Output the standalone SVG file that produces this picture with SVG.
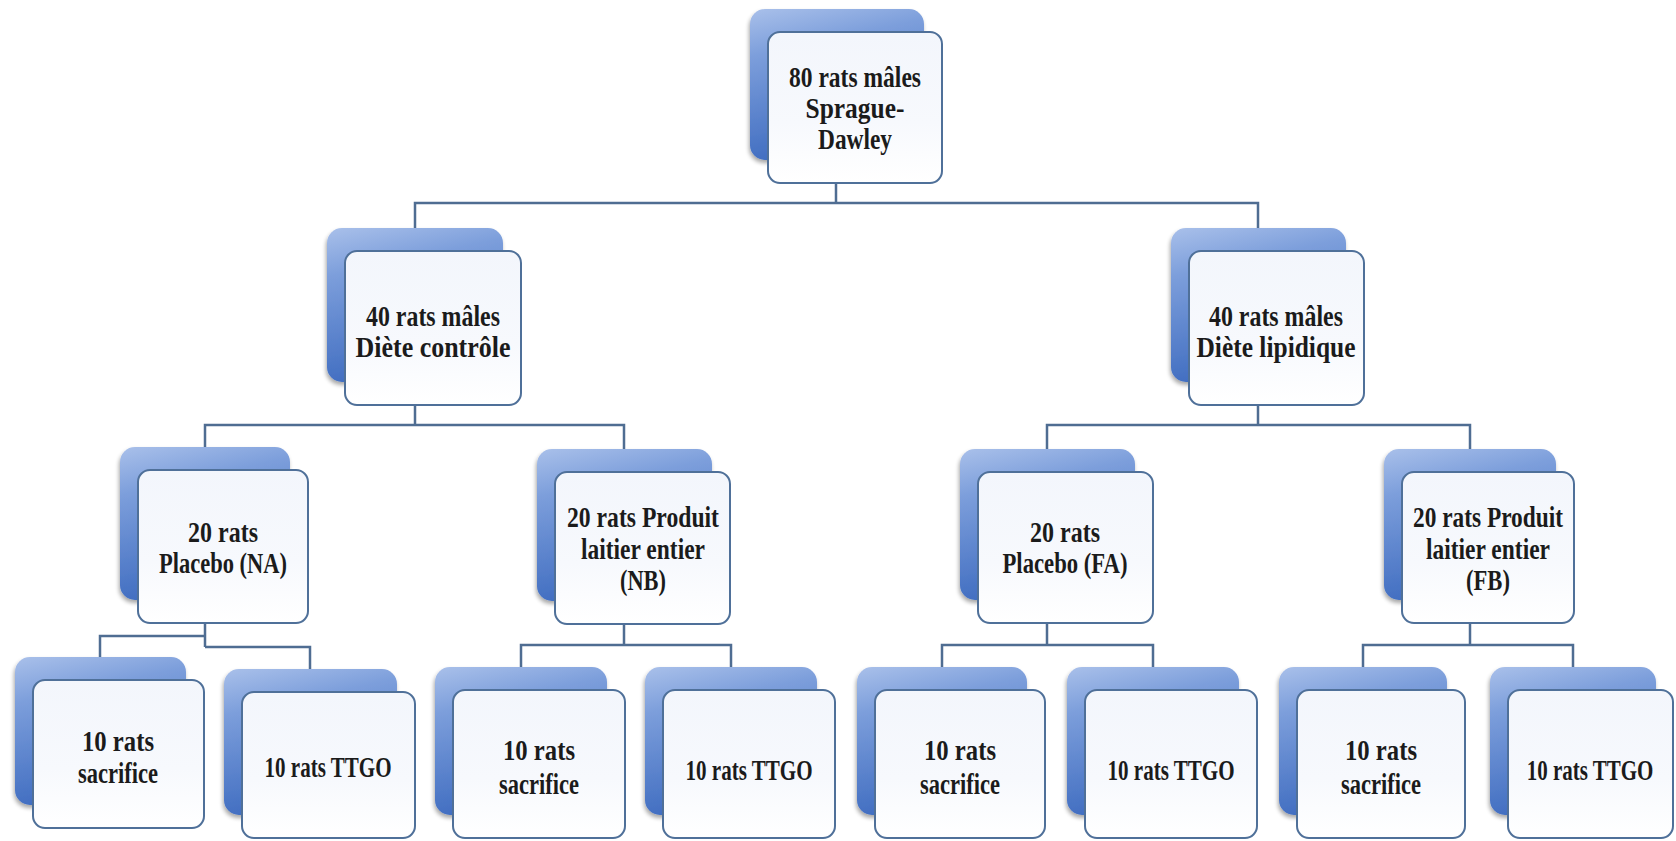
<svg xmlns="http://www.w3.org/2000/svg" width="1676" height="841" viewBox="0 0 1676 841">
<defs>
<linearGradient id="backG" x1="0" y1="0" x2="0.25" y2="1">
<stop offset="0" stop-color="#a9c0ea"/>
<stop offset="0.3" stop-color="#7c9edb"/>
<stop offset="1" stop-color="#3f6cc0"/>
</linearGradient>
<linearGradient id="frontG" x1="0" y1="0" x2="0" y2="1">
<stop offset="0" stop-color="#f3f6fc"/>
<stop offset="0.6" stop-color="#f7f9fd"/>
<stop offset="1" stop-color="#ffffff"/>
</linearGradient>
<filter id="sh" x="-10%" y="-10%" width="125%" height="125%">
<feGaussianBlur in="SourceAlpha" stdDeviation="2"/>
<feOffset dx="-1" dy="3"/>
<feComponentTransfer><feFuncA type="linear" slope="0.35"/></feComponentTransfer>
<feMerge><feMergeNode/><feMergeNode in="SourceGraphic"/></feMerge>
</filter>
</defs>
<style>
.back{fill:url(#backG);filter:url(#sh)}
.front{fill:url(#frontG);stroke:#4f7099;stroke-width:2}
.t{font-family:"Liberation Serif","Times New Roman",serif;font-weight:bold;font-size:30px;fill:#1b1b1b;text-anchor:middle}
.c{fill:none;stroke:#4f6d92;stroke-width:2.5}
</style>
<rect width="1676" height="841" fill="#ffffff"/>
<g id="connectors">
<path class="c" d="M836,183 V203 M415,228 V203 H1258 V228"/>
<path class="c" d="M415,405 V425 M205,447 V425 H624 V449"/>
<path class="c" d="M1258,405 V425 M1047,449 V425 H1470 V449"/>
<path class="c" d="M205,623 V647 M100,657 V636 H205 M205,647 H310 V669"/>
<path class="c" d="M624,624 V645 M521,667 V645 H731 V667"/>
<path class="c" d="M1047,623 V645 M942,667 V645 H1153 V667"/>
<path class="c" d="M1470,623 V645 M1363,667 V645 H1573 V667"/>
</g>
<g id="n80">
<rect class="back" x="750" y="9" width="174" height="151" rx="15"/>
<rect class="front" x="768" y="32" width="174" height="151" rx="12"/>
<text class="t" x="855" y="87" textLength="132" lengthAdjust="spacingAndGlyphs">80 rats mâles</text>
<text class="t" x="855" y="118" textLength="99" lengthAdjust="spacingAndGlyphs">Sprague-</text>
<text class="t" x="855" y="149" textLength="74" lengthAdjust="spacingAndGlyphs">Dawley</text>
</g>
<g id="n40c">
<rect class="back" x="327" y="228" width="176" height="154" rx="15"/>
<rect class="front" x="345" y="251" width="176" height="154" rx="12"/>
<text class="t" x="433" y="326" textLength="134" lengthAdjust="spacingAndGlyphs">40 rats mâles</text>
<text class="t" x="433" y="357" textLength="155" lengthAdjust="spacingAndGlyphs">Diète contrôle</text>
</g>
<g id="n40l">
<rect class="back" x="1171" y="228" width="175" height="154" rx="15"/>
<rect class="front" x="1189" y="251" width="175" height="154" rx="12"/>
<text class="t" x="1276" y="326" textLength="134" lengthAdjust="spacingAndGlyphs">40 rats mâles</text>
<text class="t" x="1276" y="357" textLength="159" lengthAdjust="spacingAndGlyphs">Diète lipidique</text>
</g>
<g id="nNA">
<rect class="back" x="120" y="447" width="170" height="153" rx="15"/>
<rect class="front" x="138" y="470" width="170" height="153" rx="12"/>
<text class="t" x="223" y="542" textLength="70" lengthAdjust="spacingAndGlyphs">20 rats</text>
<text class="t" x="223" y="573" textLength="128" lengthAdjust="spacingAndGlyphs">Placebo (NA)</text>
</g>
<g id="nNB">
<rect class="back" x="537" y="449" width="175" height="152" rx="15"/>
<rect class="front" x="555" y="472" width="175" height="152" rx="12"/>
<text class="t" x="643" y="527" textLength="152" lengthAdjust="spacingAndGlyphs">20 rats Produit</text>
<text class="t" x="643" y="559" textLength="124" lengthAdjust="spacingAndGlyphs">laitier entier</text>
<text class="t" x="643" y="590" textLength="46" lengthAdjust="spacingAndGlyphs">(NB)</text>
</g>
<g id="nFA">
<rect class="back" x="960" y="449" width="175" height="151" rx="15"/>
<rect class="front" x="978" y="472" width="175" height="151" rx="12"/>
<text class="t" x="1065" y="542" textLength="70" lengthAdjust="spacingAndGlyphs">20 rats</text>
<text class="t" x="1065" y="573" textLength="125" lengthAdjust="spacingAndGlyphs">Placebo (FA)</text>
</g>
<g id="nFB">
<rect class="back" x="1384" y="449" width="172" height="151" rx="15"/>
<rect class="front" x="1402" y="472" width="172" height="151" rx="12"/>
<text class="t" x="1488" y="527" textLength="150" lengthAdjust="spacingAndGlyphs">20 rats Produit</text>
<text class="t" x="1488" y="559" textLength="124" lengthAdjust="spacingAndGlyphs">laitier entier</text>
<text class="t" x="1488" y="590" textLength="44" lengthAdjust="spacingAndGlyphs">(FB)</text>
</g>
<g id="nNAs">
<rect class="back" x="15" y="657" width="171" height="148" rx="15"/>
<rect class="front" x="33" y="680" width="171" height="148" rx="12"/>
<text class="t" x="118" y="751" textLength="72" lengthAdjust="spacingAndGlyphs">10 rats</text>
<text class="t" x="118" y="783" textLength="80" lengthAdjust="spacingAndGlyphs">sacrifice</text>
</g>
<g id="nNAt">
<rect class="back" x="224" y="669" width="173" height="146" rx="15"/>
<rect class="front" x="242" y="692" width="173" height="146" rx="12"/>
<text class="t" x="328" y="777" textLength="127" lengthAdjust="spacingAndGlyphs">10 rats TTGO</text>
</g>
<g id="nNBs">
<rect class="back" x="435" y="667" width="172" height="148" rx="15"/>
<rect class="front" x="453" y="690" width="172" height="148" rx="12"/>
<text class="t" x="539" y="760" textLength="72" lengthAdjust="spacingAndGlyphs">10 rats</text>
<text class="t" x="539" y="794" textLength="80" lengthAdjust="spacingAndGlyphs">sacrifice</text>
</g>
<g id="nNBt">
<rect class="back" x="645" y="667" width="172" height="148" rx="15"/>
<rect class="front" x="663" y="690" width="172" height="148" rx="12"/>
<text class="t" x="749" y="780" textLength="127" lengthAdjust="spacingAndGlyphs">10 rats TTGO</text>
</g>
<g id="nFAs">
<rect class="back" x="857" y="667" width="170" height="148" rx="15"/>
<rect class="front" x="875" y="690" width="170" height="148" rx="12"/>
<text class="t" x="960" y="760" textLength="72" lengthAdjust="spacingAndGlyphs">10 rats</text>
<text class="t" x="960" y="794" textLength="80" lengthAdjust="spacingAndGlyphs">sacrifice</text>
</g>
<g id="nFAt">
<rect class="back" x="1067" y="667" width="172" height="148" rx="15"/>
<rect class="front" x="1085" y="690" width="172" height="148" rx="12"/>
<text class="t" x="1171" y="780" textLength="127" lengthAdjust="spacingAndGlyphs">10 rats TTGO</text>
</g>
<g id="nFBs">
<rect class="back" x="1279" y="667" width="168" height="148" rx="15"/>
<rect class="front" x="1297" y="690" width="168" height="148" rx="12"/>
<text class="t" x="1381" y="760" textLength="72" lengthAdjust="spacingAndGlyphs">10 rats</text>
<text class="t" x="1381" y="794" textLength="80" lengthAdjust="spacingAndGlyphs">sacrifice</text>
</g>
<g id="nFBt">
<rect class="back" x="1490" y="667" width="166" height="148" rx="15"/>
<rect class="front" x="1508" y="690" width="165" height="148" rx="12"/>
<text class="t" transform="translate(1590,780) scale(0.7,1)" x="0" y="0">10 rats TTGO</text>
</g>
</svg>
